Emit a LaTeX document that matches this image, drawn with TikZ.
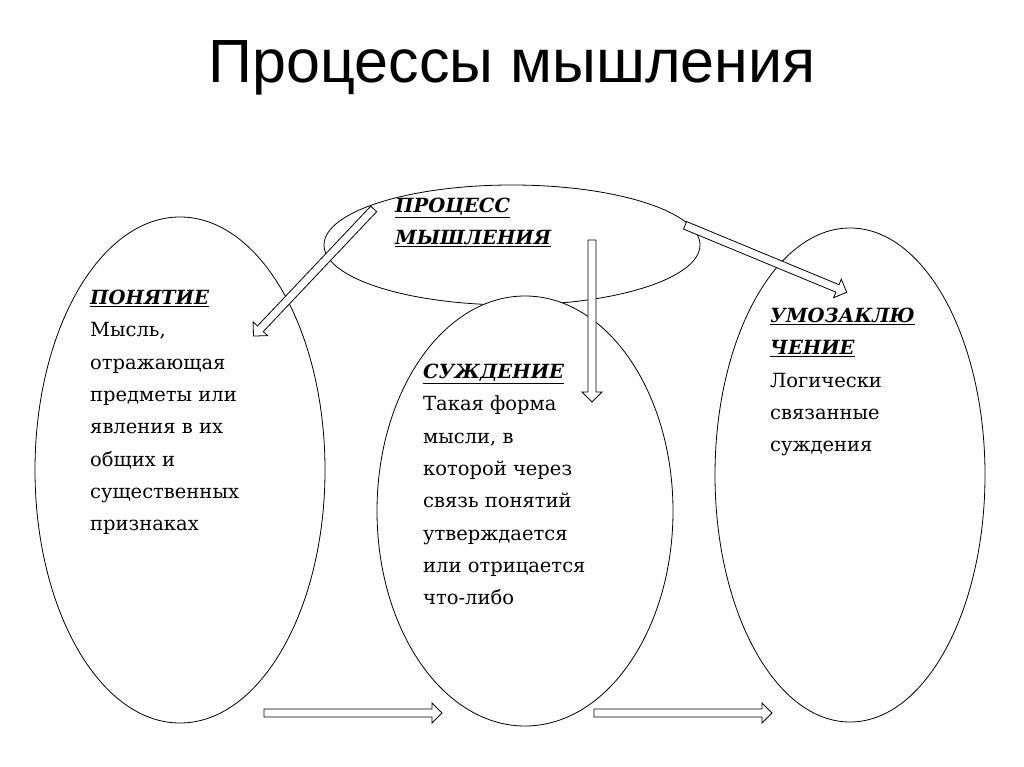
\documentclass[tikz,border=0pt]{standalone}
\usepackage{fontspec}
\setmainfont{DejaVu Serif}
\newfontfamily\titlefont{Liberation Sans}
\usetikzlibrary{shapes.arrows}
\begin{document}
\begin{tikzpicture}[x=1pt,y=-1pt,
  oval/.style={draw,fill=white,line width=0.8pt},
  harrow/.style={single arrow,draw,fill=white,line width=0.8pt,minimum width=20pt,single arrow head extend=5pt,single arrow head indent=0pt,inner sep=3pt,anchor=center},
  txt/.style={anchor=north west,align=left,font=\fontsize{19.5}{32.3}\selectfont,inner sep=0pt}]
\useasboundingbox (0,0) rectangle (1024,767);
\fill[white] (0,0) rectangle (1024,767);
\node (title) at (512,68) {\titlefont\fontsize{61}{66}\selectfont Процессы мышления};
\draw[oval] (512,245) ellipse [x radius=188, y radius=60];
\node (top) at (512,245) {};
\draw[oval] (180,470) ellipse [x radius=145, y radius=253];
\draw[oval] (525,511) ellipse [x radius=148, y radius=215];
\draw[oval] (850,475) ellipse [x radius=135, y radius=247];
\node[txt] (t0) at (395,198) {\textbf{\textit{\underline{ПРОЦЕСС}}}\\\textbf{\textit{\underline{МЫШЛЕНИЯ}}}};
\node[txt] (t1) at (90,290) {\textbf{\textit{\underline{ПОНЯТИЕ}}}\\Мысль,\\отражающая\\предметы или\\явления в их\\общих и\\существенных\\признаках};
\node[txt] (t2) at (423,364) {\textbf{\textit{\underline{СУЖДЕНИЕ}}}\\Такая форма\\мысли, в\\которой через\\связь понятий\\утверждается\\или отрицается\\что-либо};
\node[txt] (t3) at (770,308) {\textbf{\textit{\underline{УМОЗАКЛЮ}}}\\\textbf{\textit{\underline{ЧЕНИЕ}}}\\Логически\\связанные\\суждения};
\node[harrow,minimum height=175pt,rotate=226.6] (a1) at (315,271) {};
\node[harrow,minimum height=162pt,rotate=270] (a2) at (592,319) {};
\node[harrow,minimum height=175pt,rotate=-22.5] (a3) at (764,258) {};
\node[harrow,minimum height=178pt,rotate=0] (a4) at (351,713) {};
\node[harrow,minimum height=178pt,rotate=0] (a5) at (681,713) {};
\end{tikzpicture}
\end{document}
